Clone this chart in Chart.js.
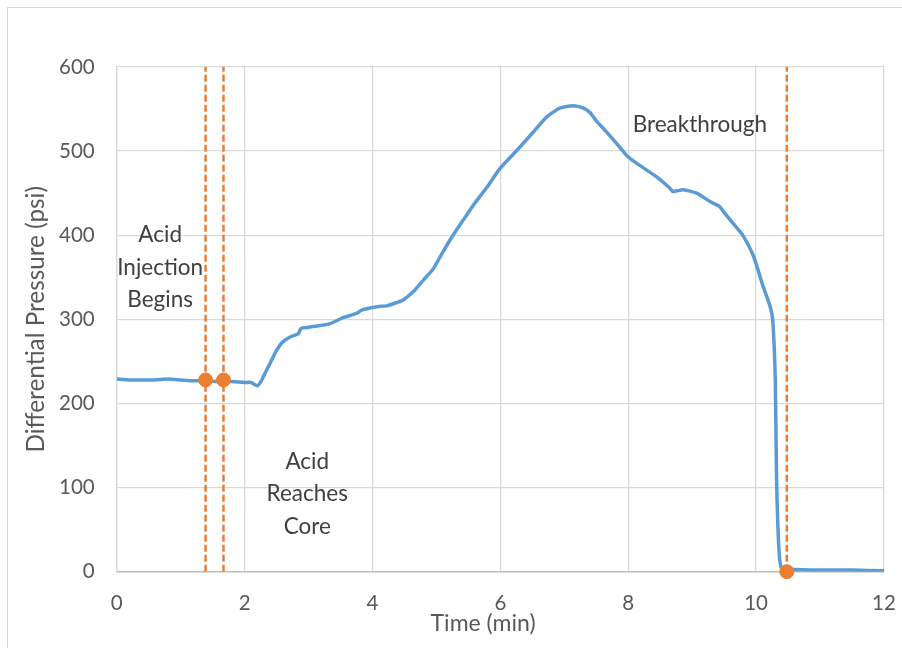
<!DOCTYPE html>
<html>
<head>
<meta charset="utf-8">
<script src="https://cdn.jsdelivr.net/npm/chart.js@4.4.1/dist/chart.umd.min.js"></script>
<style>
  html, body { margin: 0; padding: 0; background: #fff; overflow: hidden; }
  #wrap { position: relative; width: 902px; height: 648px; }
  #frame { position: absolute; left: 7px; top: 7px; width: 1000px; height: 1000px; border: 1px solid #d9d9d9; }
  canvas { position: absolute; left: 0; top: 0; }
</style>
</head>
<body>
<div id="wrap">
  <div id="frame"></div>
  <canvas id="pressureChart" width="902" height="648"></canvas>
</div>
<script>
/* ── data ────────────────────────────────────────────────────── */
const timeMin = [
  0, 0.2, 0.4, 0.6, 0.8, 1.0, 1.2, 1.4, 1.6, 1.8, 2.0, 2.1, 2.2, 2.27, 2.32,
  2.40, 2.50, 2.58, 2.71, 2.84, 2.88, 2.94, 3.13, 3.34, 3.54, 3.75, 3.83, 4.07,
  4.22, 4.38, 4.48, 4.64, 4.80, 4.95, 5.10, 5.26, 5.42, 5.58, 5.79, 5.99, 6.26,
  6.52, 6.73, 6.93, 7.14, 7.30, 7.40, 7.51, 7.61, 7.82, 8.00, 8.18, 8.45, 8.65,
  8.70, 8.86, 9.07, 9.28, 9.43, 9.49, 9.64, 9.80, 9.96, 10.11, 10.22, 10.26,
  10.30, 10.32, 10.36, 10.40, 10.5, 11.0, 11.5, 12.0
];
const pressurePsi = [
  229, 228, 228, 228, 229, 228, 227, 227, 226, 226, 225, 225, 221, 228, 236,
  248, 263, 272, 279, 283, 289, 290, 292, 295, 302, 307, 311, 315,
  316, 320, 323, 333, 347, 360, 380, 400, 418, 436, 457, 479, 501,
  523, 541, 551, 554, 551, 546, 535, 527, 509, 493, 483, 469, 456,
  452, 454, 450, 440, 434, 428, 414, 399, 375, 339, 315, 299,
  228, 109, 22, 4, 3, 2, 2, 1
];
const eventTimes = [1.39, 1.67, 10.48];
const eventPressures = [228, 228, 0];
const xRange = [0, 12];
const yRange = [0, 600];

const notes = [
  { lines: ["Acid", "Injection", "Begins"], t: 0.68, p: 400 },
  { lines: ["Acid", "Reaches", "Core"], t: 2.98, p: 131 },
  { lines: ["Breakthrough"], t: 9.12, p: 531 }
];
const xTitle = { text: "Time (min)", t: 5.73 };

const BLUE = "#5b9bd5";
const ORANGE = "#ed7d31";
const FONT = "Lato, 'Open Sans', sans-serif";

/* ── text labels inside the plot + x title (off-centre in the original) ── */
const notesPlugin = {
  id: "notes",
  afterDatasetsDraw(chart) {
    const { ctx, scales: { x, y } } = chart;
    ctx.save();
    ctx.font = `22.5px ${FONT}`;
    ctx.fillStyle = "#404040";
    ctx.textAlign = "center";
    ctx.textBaseline = "middle";
    notes.forEach(n => {
      const px = x.getPixelForValue(n.t);
      const py = y.getPixelForValue(n.p);
      n.lines.forEach((s, i) => ctx.fillText(s, px, py + i * 32.5));
    });
    ctx.font = `23px ${FONT}`;
    ctx.fillStyle = "#595959";
    ctx.fillText(xTitle.text, x.getPixelForValue(xTitle.t), x.bottom - 24.6);
    ctx.restore();
  }
};

const eventLines = eventTimes.map(t => ({
  type: "line",
  data: [{ x: t, y: yRange[0] }, { x: t, y: yRange[1] }],
  borderColor: ORANGE,
  borderWidth: 2.5,
  borderDash: [7, 3],
  pointRadius: 0,
  order: 1
}));

new Chart(document.getElementById("pressureChart"), {
  type: "scatter",
  data: {
    datasets: [
      {
        type: "line",
        label: "Differential Pressure",
        data: timeMin.map((t, i) => ({ x: t, y: pressurePsi[i] })),
        borderColor: BLUE,
        borderWidth: 3.5,
        pointRadius: 0,
        tension: 0.2,
        order: 2
      },
      ...eventLines,
      {
        label: "Events",
        data: eventTimes.map((t, i) => ({ x: t, y: eventPressures[i] })),
        backgroundColor: ORANGE,
        borderColor: ORANGE,
        pointRadius: 7,
        clip: false,
        order: 0
      }
    ]
  },
  options: {
    responsive: false,
    animation: false,
    devicePixelRatio: 1,
    layout: { padding: { left: 0, right: 18, top: 67, bottom: 0 } },
    plugins: { legend: { display: false }, tooltip: { enabled: false } },
    scales: {
      x: {
        type: "linear",
        min: xRange[0], max: xRange[1],
        afterFit: s => { s.height = 76.3; s.paddingRight = 0; },
        ticks: { stepSize: 2, color: "#595959", font: { family: FONT, size: 20.5 }, padding: 19 },
        grid: { color: "#d9d9d9", lineWidth: 1.3, drawTicks: false },
        border: { color: "#bfbfbf", width: 1.5 },
        title: { display: false }
      },
      y: {
        min: yRange[0], max: yRange[1],
        afterFit: s => { s.width = 116.7; },
        ticks: { stepSize: 100, color: "#595959", font: { family: FONT, size: 20.5 }, padding: 22 },
        grid: { color: "#d9d9d9", lineWidth: 1.3, drawTicks: false },
        border: { color: "#d9d9d9", width: 1.3 },
        title: {
          display: true, text: "Differential Pressure (psi)", color: "#595959",
          font: { family: FONT, size: 24.3 }, padding: { top: 22, bottom: 0 }
        }
      }
    }
  },
  plugins: [notesPlugin]
});
</script>
</body>
</html>
